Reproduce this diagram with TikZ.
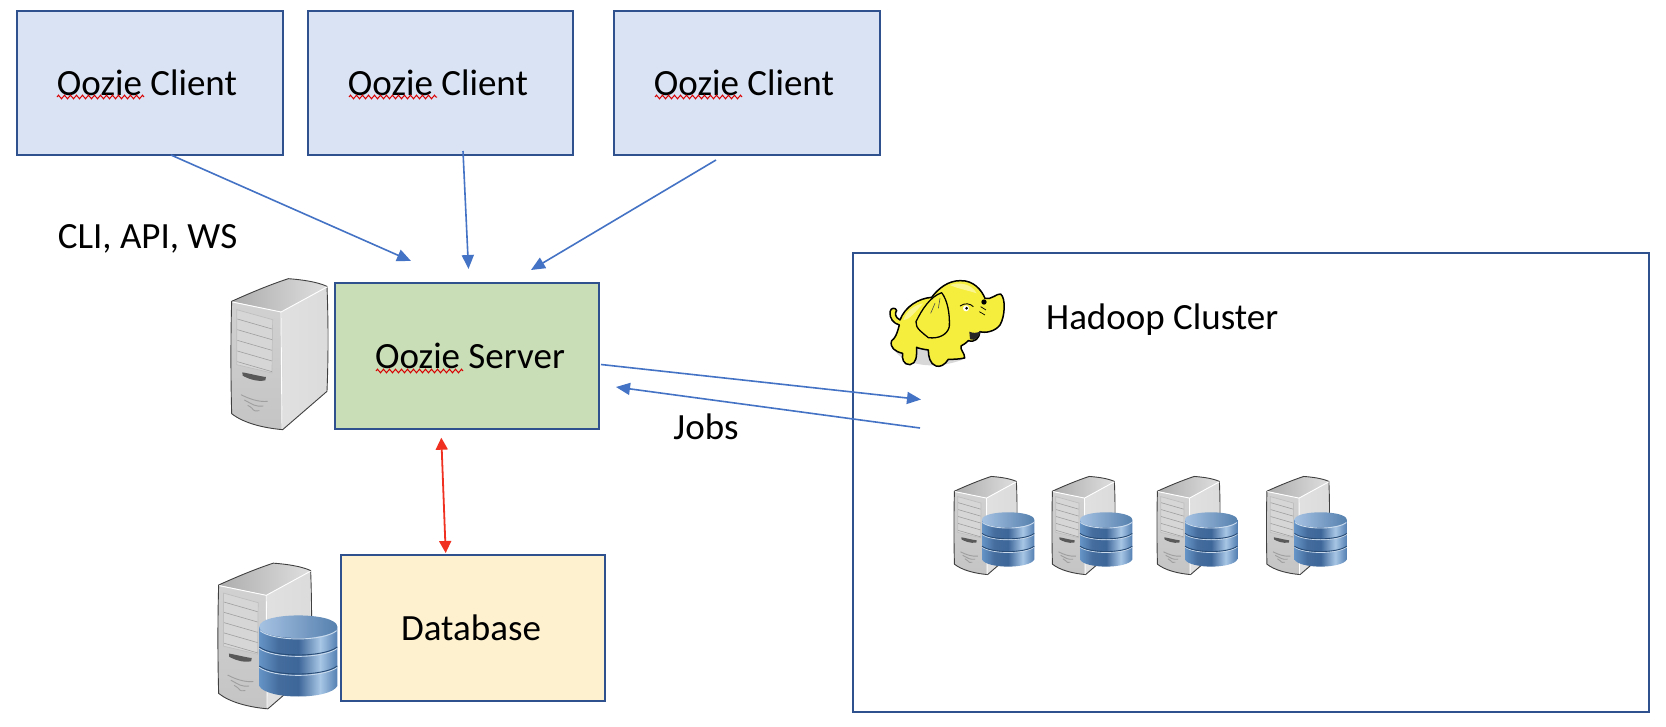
\documentclass[tikz,border=0pt]{standalone}
\usepackage{fontspec}
\setmainfont{Carlito}
\usetikzlibrary{decorations.pathmorphing,arrows.meta}
\definecolor{boxedge}{HTML}{2F528F}
\definecolor{clientfill}{HTML}{DAE3F3}
\definecolor{serverfill}{HTML}{C9DDB6}
\definecolor{dbfill}{HTML}{FDF1CF}
\definecolor{arrowblue}{HTML}{4472C4}
\definecolor{arrowred}{HTML}{F03020}
\definecolor{ellieyellow}{HTML}{F6EE3C}
\definecolor{dbtopl}{HTML}{A6C2E2}
\definecolor{dbtopr}{HTML}{5580AE}
\definecolor{dbline}{HTML}{274B75}
\definecolor{dbhigh}{HTML}{C9DAEC}
\pgfdeclarehorizontalshading{dbbody}{100bp}{
  rgb(0bp)=(.30,.47,.68);
  rgb(25bp)=(.40,.58,.78);
  rgb(37bp)=(.27,.43,.62);
  rgb(50bp)=(.24,.40,.60);
  rgb(64bp)=(.66,.78,.90);
  rgb(75bp)=(.33,.50,.70);
  rgb(100bp)=(.30,.47,.68)}
\tikzset{
  box/.style={draw=boxedge,line width=2pt,inner sep=0pt,font=\fontsize{37}{44}\selectfont,text=black},
  clientbox/.style={box,fill=clientfill,minimum width=266pt,minimum height=144pt},
  plainlabel/.style={inner sep=0pt,font=\fontsize{37}{44}\selectfont,text=black},
  flow/.style={draw=arrowblue,line width=1.6pt,-{Triangle[length=14pt,width=12pt]}},
  flowred/.style={draw=arrowred,line width=1.8pt,{Triangle[length=12pt,width=12pt]}-{Triangle[length=12pt,width=12pt]}},
  squiggle/.style={draw=red!85!black,line width=1pt,decorate,decoration={zigzag,segment length=6pt,amplitude=1.8pt}},
  serverpic/.pic={
    \begin{scope}[x=.3333pt,y=-.3333pt,shift={(-93,-55)}]
      \shade[left color=gray!65,right color=gray!25]
        (95,125) .. controls (150,100) and (210,75) .. (265,57) .. controls (305,60) and (350,66) .. (381,80) -- (245,157) -- cycle;
      \shade[left color=white!88!black,right color=gray!28]
        (245,157) -- (381,80) -- (381,395) -- (248,510) -- cycle;
      \shade[top color=gray!36,bottom color=gray!46]
        (95,125) -- (245,157) -- (248,510) .. controls (190,505) and (130,490) .. (95,462) -- cycle;
      \draw[line width=.9pt,black!75,line join=round]
        (95,125) .. controls (150,100) and (210,75) .. (265,57) .. controls (305,60) and (350,66) .. (381,80)
        .. controls (385,180) and (385,300) .. (381,395) -- (248,510) .. controls (190,505) and (130,490) .. (95,462)
        .. controls (92,350) and (92,230) .. (95,125) -- cycle;
      \draw[white,line width=.9pt] (97,127) -- (243,157) -- (381,82) (243,157) -- (246,508);
      \draw[gray!50,fill=gray!32,line width=.7pt] (110,150) -- (218,180) -- (216,340) -- (110,315) -- cycle;
      \foreach \i in {0,1,2,3,4}
        \draw[gray!75,line width=.6pt] (112,178+32*\i) -- (216,208+32*\i);
      \fill[black!65] (127,338) .. controls (150,342) and (180,350) .. (198,352) -- (196,362) .. controls (170,368) and (140,355) .. (128,348) -- cycle;
      \foreach \i/\a/\b in {0/123/203,1/133/190,2/143/178}
        \draw[gray!75,line width=.9pt] (\a,405+16*\i) .. controls (\a+25,418+16*\i) and (\b-25,428+14*\i) .. (\b,425+14*\i);
    \end{scope}
  },
  dbpic/.pic={
    \begin{scope}[x=.3333pt,y=-.3333pt,shift={(-178,-1065)}]
      \path[shading=dbbody]
        (178,1100) -- (178,1278) .. controls (200,1320) and (390,1320) .. (412,1278) -- (412,1100) -- cycle;
      \foreach \yy in {1165,1222}{
        \draw[dbhigh,line width=.9pt] (178,\yy) .. controls (220,\yy+32) and (370,\yy+32) .. (412,\yy);
        \draw[dbline,line width=.9pt] (178,\yy-4) .. controls (220,\yy+28) and (370,\yy+28) .. (412,\yy-4);
      }
      \shade[left color=dbtopl,right color=dbtopr]
        (178,1100) .. controls (178,1055) and (412,1055) .. (412,1100)
        .. controls (412,1145) and (178,1145) .. (178,1100) -- cycle;
      \draw[dbhigh,line width=.9pt] (180,1112) .. controls (220,1145) and (370,1145) .. (410,1112);
    \end{scope}
  },
  elephantpic/.pic={
    \begin{scope}[x=.3333pt,y=-.3333pt]
      \fill[black!25,opacity=.6] (100,235) .. controls (130,290) and (230,300) .. (310,268) -- (300,240) -- (120,220) -- cycle;
      \draw[black,line width=1.5pt,fill=ellieyellow,line join=round]
        (118,165) .. controls (100,160) and (88,145) .. (90,125)
        .. controls (92,112) and (108,112) .. (110,122)
        .. controls (104,128) and (104,142) .. (120,150)
        .. controls (135,110) and (175,85) .. (215,82)
        .. controls (235,55) and (265,32) .. (300,32)
        .. controls (340,30) and (365,60) .. (375,85)
        .. controls (395,90) and (410,70) .. (422,72)
        .. controls (438,85) and (435,140) .. (420,165)
        .. controls (405,185) and (375,190) .. (360,185)
        .. controls (358,205) and (345,218) .. (325,212)
        .. controls (315,222) and (308,225) .. (303,228)
        .. controls (300,240) and (315,250) .. (314,264)
        .. controls (295,268) and (280,268) .. (265,268)
        .. controls (255,285) and (240,292) .. (228,288)
        .. controls (210,282) and (205,260) .. (205,240)
        .. controls (190,238) and (175,235) .. (170,232)
        .. controls (170,260) and (170,280) .. (150,284)
        .. controls (130,285) and (125,265) .. (128,250)
        .. controls (105,245) and (88,232) .. (95,212)
        .. controls (105,205) and (110,195) .. (118,165) -- cycle;
      \fill[white!55!ellieyellow,opacity=.8] (270,45) .. controls (300,35) and (335,42) .. (350,70) .. controls (320,60) and (290,55) .. (270,45) -- cycle;
      \fill[white!55!ellieyellow,opacity=.8] (130,150) .. controls (140,120) and (165,105) .. (190,100) .. controls (165,125) and (150,150) .. (130,150) -- cycle;
      \draw[black,line width=1.3pt,fill=ellieyellow,line join=round]
        (168,155) .. controls (185,120) and (210,80) .. (245,68)
        .. controls (262,90) and (270,130) .. (268,170)
        .. controls (262,195) and (235,207) .. (205,203)
        .. controls (190,190) and (165,175) .. (168,155) -- cycle;
      \draw[black!70,line width=.6pt] (225,100) -- (212,130) (240,85) -- (235,115);
      \fill[white] (318,115) circle[radius=9];
      \fill[black] (320,115) circle[radius=4.5];
      \draw[black,line width=.9pt] (300,108) .. controls (315,98) and (330,100) .. (340,110);
      \fill[black] (372,96) circle[radius=8];
      \draw[black,line width=.7pt] (362,110) -- (378,120) (358,125) -- (375,135);
      \fill[black!85] (328,185) .. controls (338,190) and (352,190) .. (362,183) .. controls (358,200) and (345,215) .. (330,208) -- cycle;
    \end{scope}
  }
}
\begin{document}
\begin{tikzpicture}[x=1pt,y=-1pt]
  \useasboundingbox (0,0) rectangle (1666,726);
  \fill[white] (0,0) rectangle (1666,726);

  % client boxes
  \node[clientbox] (client1) at (150,83) {\hspace*{-6pt}Oozie Client};
  \node[clientbox,minimum width=265pt] (client2) at (440.5,83) {\hspace*{-5pt}Oozie Client};
  \node[clientbox] (client3) at (747,83) {\hspace*{-6pt}Oozie Client};
  \node[plainlabel] (cli) at (147.5,239) {CLI, API, WS};

  % server and database
  \pic at (231,278) {serverpic};
  \node[box,fill=serverfill,minimum width=264pt,minimum height=146pt] (server) at (467,355.5) {\hspace*{6pt}Oozie Server};
  \pic at (218,562.5) [scale=.965] {serverpic};
  \pic at (259.3,615) {dbpic};
  \node[box,fill=dbfill,minimum width=264pt,minimum height=146pt] (database) at (473,628) {\hspace*{-4pt}Database};

  % cluster
  \node[draw=boxedge,line width=2pt,minimum width=796pt,minimum height=459pt,inner sep=0pt] (cluster) at (1251,482.5) {};
  \pic at (860,270) {elephantpic};
  \node[plainlabel,anchor=west] (hadoop) at (1046,320) {Hadoop Cluster};
  \node[plainlabel] (jobs) at (706,427) {Jobs};
  \foreach \dx in {0,98,203,312.5}{
    \pic at (954+\dx,476) [scale=.65] {serverpic};
    \pic at (982+\dx,512) [scale=.67] {dbpic};
  }

  % squiggles
  \draw[squiggle] (57,97) -- (144,97);
  \draw[squiggle] (349,97) -- (437,97);
  \draw[squiggle] (655,97) -- (742,97);
  \draw[squiggle] (376,371) -- (463,371);

  % connectors
  \coordinate (a1s) at (171,155);   \coordinate (a1e) at (411,261);
  \coordinate (a2s) at (463,151);   \coordinate (a2e) at (468.5,269);
  \coordinate (a3s) at (716,160);   \coordinate (a3e) at (531,270);
  \coordinate (j1s) at (601,364.5); \coordinate (j1e) at (921,399.5);
  \coordinate (j2s) at (920,428);   \coordinate (j2e) at (616,387);
  \coordinate (ds) at (441.3,437.7); \coordinate (de) at (445.7,553);
  \draw[flow] (a1s) -- (a1e);
  \draw[flow] (a2s) -- (a2e);
  \draw[flow] (a3s) -- (a3e);
  \draw[flow] (j1s) -- (j1e);
  \draw[flow] (j2s) -- (j2e);
  \draw[flowred] (ds) -- (de);
\end{tikzpicture}
\end{document}
